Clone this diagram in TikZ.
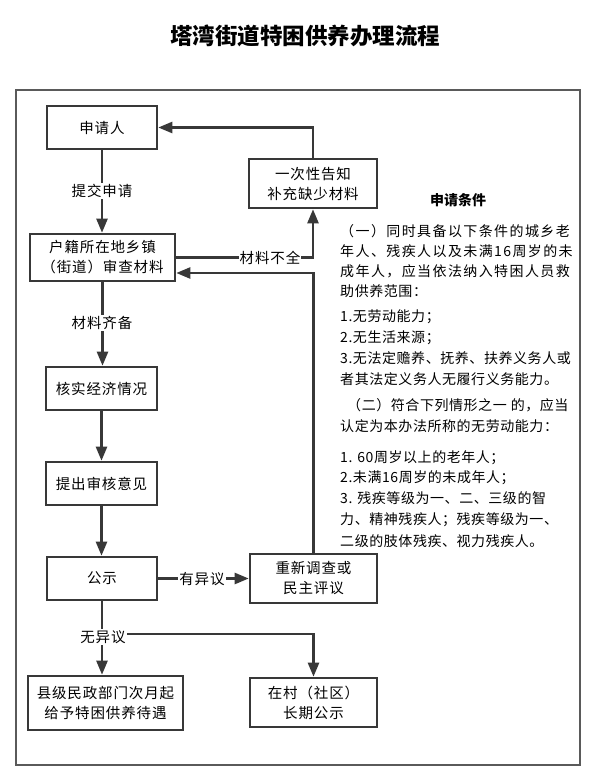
\documentclass[tikz,border=0pt]{standalone}
\usepackage{fontspec}
\usetikzlibrary{arrows.meta}
\newfontfamily\cjk[LetterSpace=6]{Noto Sans CJK SC}
\newfontfamily\cjkn[LetterSpace=4]{Noto Sans CJK SC}
\newfontfamily\cjkx[LetterSpace=10]{Noto Sans CJK SC}
\newfontfamily\cjkt{Noto Sans CJK SC}
\definecolor{ln}{HTML}{383838}
\definecolor{fr}{HTML}{5A5A5A}
\begin{document}
\begin{tikzpicture}[x=1pt,y=-1pt,
  bx/.style={draw=ln, line width=2.6pt, fill=white, align=center, inner sep=0pt, font=\cjk\fontsize{14.5}{20}\selectfont},
  cn/.style={draw=ln, line width=2.4pt, -{Triangle[length=14pt,width=11pt]}},
  lb/.style={fill=white, inner sep=1pt, font=\cjk\fontsize{14.5}{18}\selectfont},
  rt/.style={anchor=base west, inner sep=0pt, font=\cjkn\fontsize{14}{18}\selectfont},
  rtx/.style={rt, font=\cjkx\fontsize{14}{18}\selectfont}]
\useasboundingbox (0,0) rectangle (596,781);
\fill[white] (0,0) rectangle (596,781);
\node[font=\cjkt\bfseries\fontsize{22.5}{26}\selectfont] (title) at (305,36) {塔湾街道特困供养办理流程};
\draw[fr, line width=2pt] (16,90) rectangle (580,765);

% boxes
\node[bx, minimum width=110pt, minimum height=43pt] (sq) at (102,127.5) {申请人};
\node[bx, minimum width=128pt, minimum height=49pt] (yc) at (313,183.5) {一次性告知\\补充缺少材料};
\node[bx, minimum width=145pt, minimum height=47pt] (hj) at (102.5,257.5) {户籍所在地乡镇\\（街道）审查材料};
\node[bx, minimum width=111pt, minimum height=43pt] (hs) at (101.5,388.5) {核实经济情况};
\node[bx, minimum width=111pt, minimum height=43pt] (tc) at (101.5,483.5) {提出审核意见};
\node[bx, minimum width=110pt, minimum height=43pt] (gs) at (102,578.5) {公示};
\node[bx, minimum width=127pt, minimum height=49pt] (cd) at (313.5,578.5) {重新调查或\\民主评议};
\node[bx, minimum width=155pt, minimum height=54pt] (xj) at (105.5,703) {县级民政部门次月起\\给予特困供养待遇};
\node[bx, minimum width=127pt, minimum height=49pt] (zc) at (313.5,702.5) {在村（社区）\\长期公示};

% connectors
\draw[cn] (sq.south) -- (sq.south |- hj.north);
\draw[cn] (hj.east) -| (yc.south);
\draw[cn] (yc.north) |- (sq.east);
\draw[cn] (cd.north) |- ([yshift=-15.5pt]hj.east);
\draw[cn] (hj.south) -- (hj.south |- hs.north);
\draw[cn] (hs.south) -- (hs.south |- tc.north);
\draw[cn] (tc.south) -- (tc.south |- gs.north);
\draw[cn] (gs.east) -- (cd.west);
\draw[cn] (gs.south) -- (gs.south |- xj.north);
\draw[cn] (gs.south |- 0,634) -| (zc.north);

% labels
\node[lb] (l1) at (102,191) {提交申请};
\node[lb] (l2) at (102,323) {材料齐备};
\node[lb] (l3) at (270,258) {材料不全};
\node[lb] (l4) at (202,579) {有异议};
\node[lb] (l5) at (103,637) {无异议};

% conditions
\node[font=\cjkt\bfseries\fontsize{14}{16}\selectfont] (ct) at (458,200) {申请条件};
\node[rtx] (r1) at (340,236) {（一）同时具备以下条件的城乡老};
\node[rtx] (r2) at (340,256) {年人、残疾人以及未满16周岁的未};
\node[rtx] (r3) at (340,276) {成年人，应当依法纳入特困人员救};
\node[rt] (r4) at (340,296) {助供养范围：};
\node[rt] (r5) at (340,321) {1.无劳动能力；};
\node[rt] (r6) at (340,342) {2.无生活来源；};
\node[rt] (r7) at (340,363) {3.无法定赡养、抚养、扶养义务人或};
\node[rt] (r8) at (340,384) {者其法定义务人无履行义务能力。};
\node[rt] (r9) at (347,410) {（二）符合下列情形之一\hspace{4pt}的，应当};
\node[rt] (r10) at (340,431) {认定为本办法所称的无劳动能力：};
\node[rt] (r11) at (340,462) {1. 60周岁以上的老年人；};
\node[rt] (r12) at (340,482) {2.未满16周岁的未成年人；};
\node[rt] (r13) at (340,503) {3. 残疾等级为一、二、三级的智};
\node[rt] (r14) at (340,524) {力、精神残疾人；残疾等级为一、};
\node[rt] (r15) at (340,546) {二级的肢体残疾、视力残疾人。};
\end{tikzpicture}
\end{document}
